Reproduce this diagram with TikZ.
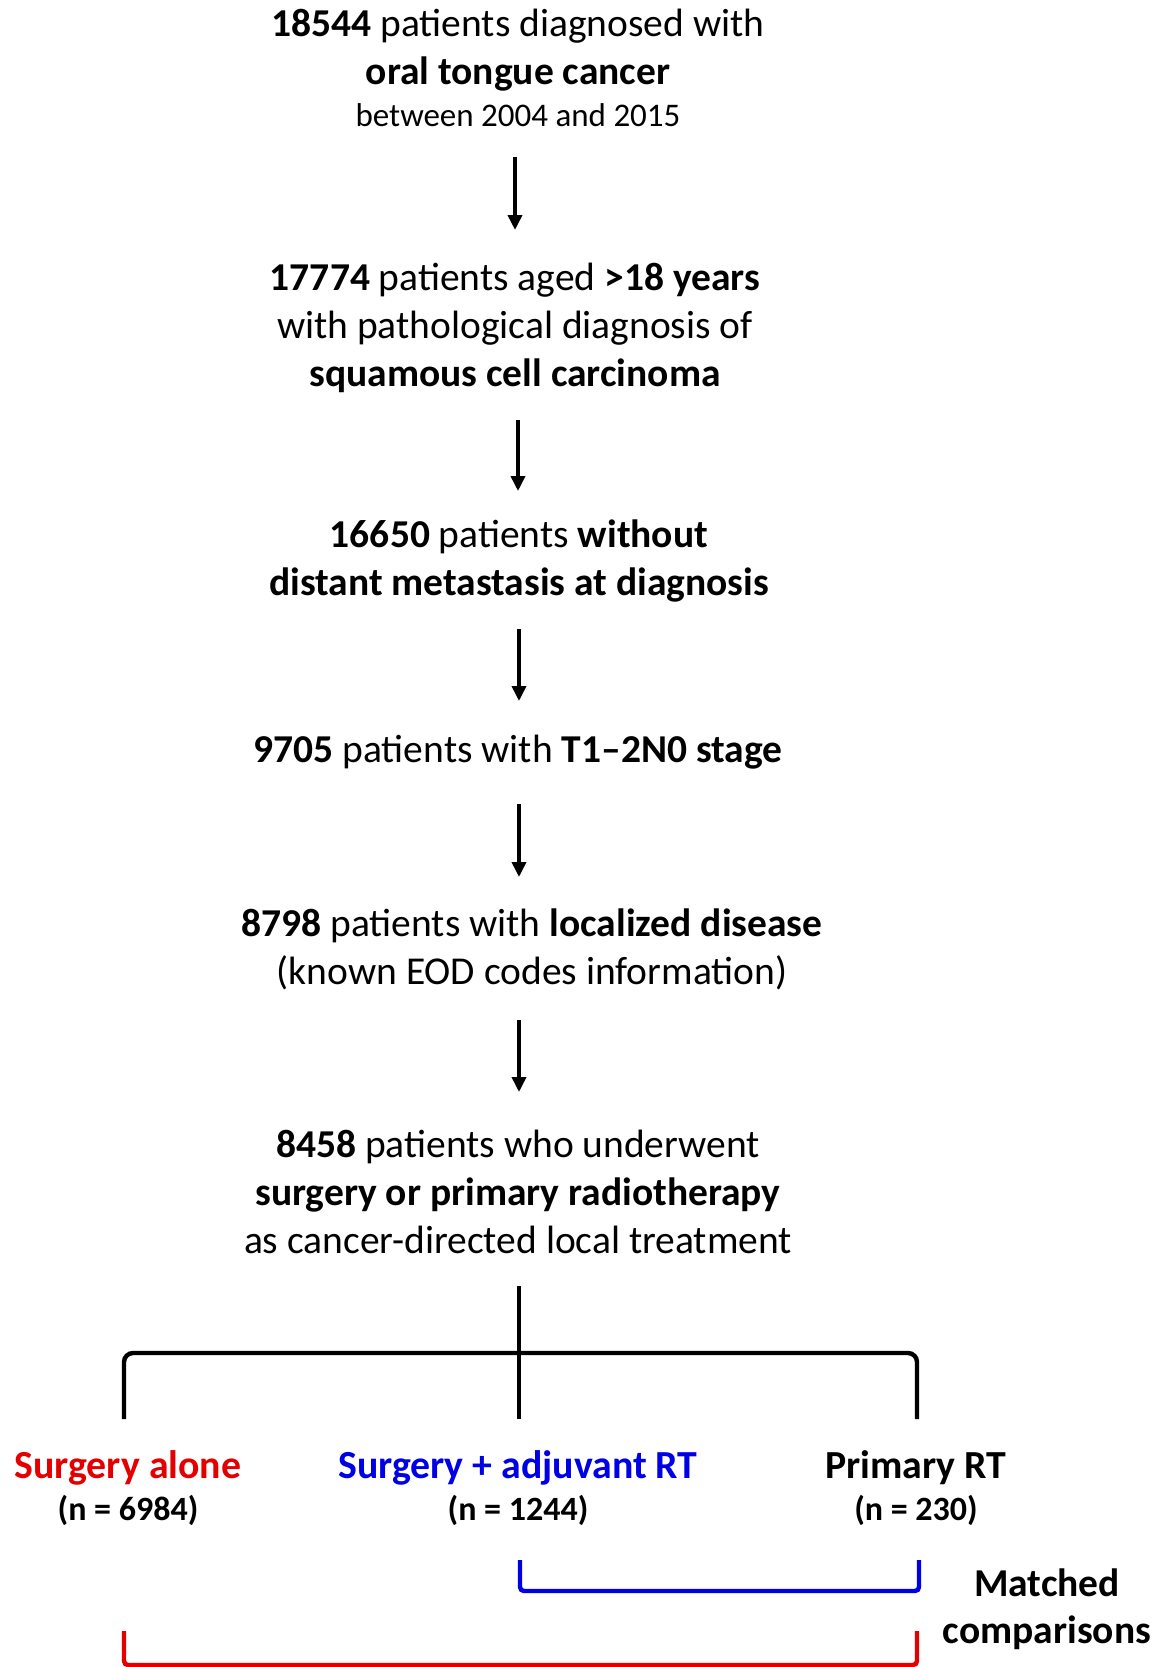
\documentclass[tikz,border=0pt]{standalone}
\usepackage{fontspec}
\setmainfont{Carlito}
\usetikzlibrary{arrows.meta}
\definecolor{myred}{RGB}{228,0,0}
\definecolor{myblue}{RGB}{0,0,230}
\begin{document}
\begin{tikzpicture}[x=1pt,y=-1pt,
  txt/.style={inner sep=0pt,anchor=base,align=center,font=\fontsize{39.5}{48}\selectfont},
  lbl/.style={inner sep=0pt,anchor=base,align=center,font=\fontsize{39.8}{40}\selectfont\bfseries},
  nsub/.style={},
  arr/.style={line width=3.6pt,-{Triangle[length=15pt,width=14pt]}},
  brk/.style={line width=4.4pt,rounded corners=9pt}]
\useasboundingbox (0,0) rectangle (1170,1667);
\fill[white] (0,0) rectangle (1170,1667);

\node[txt] (b1) at (518,127) {\textbf{18544} patients diagnosed with\\\textbf{oral tongue cancer}\\[-6pt]{\fontsize{33}{40}\selectfont between 2004 and 2015}};
\node[txt] (b2) at (515,386) {\textbf{17774} patients aged \textbf{>18 years}\\with pathological diagnosis of\\\textbf{squamous cell carcinoma}};
\node[txt] (b3) at (519,595) {\textbf{16650} patients \textbf{without}\\\textbf{distant metastasis at diagnosis}};
\node[txt] (b4) at (518,762) {\textbf{9705} patients with \textbf{T1--2N0 stage}};
\node[txt] (b5) at (532,984) {\textbf{8798} patients with \textbf{localized disease}\\(known EOD codes information)};
\node[txt] (b6) at (518,1253) {\textbf{8458} patients who underwent\\\textbf{surgery or primary radiotherapy}\\as cancer-directed local treatment};

\coordinate (a1s) at (515,157); \coordinate (a1e) at (515,230);
\coordinate (a2s) at (518,420); \coordinate (a2e) at (518,491);
\coordinate (a3s) at (519,629); \coordinate (a3e) at (519,701);
\coordinate (a4s) at (519,804); \coordinate (a4e) at (519,877);
\coordinate (a5s) at (519,1020); \coordinate (a5e) at (519,1092);
\draw[arr] (a1s) -- (a1e);
\draw[arr] (a2s) -- (a2e);
\draw[arr] (a3s) -- (a3e);
\draw[arr] (a4s) -- (a4e);
\draw[arr] (a5s) -- (a5e);

% split
\coordinate (vt) at (519,1286);
\coordinate (vb) at (519,1419);
\coordinate (lb) at (124,1419);
\coordinate (rb) at (917,1419);
\draw[line width=3.6pt] (vt) -- (vb);
\draw[brk] (lb) -- (124,1353) -- (917,1353) -- (rb);

\node[lbl,text=myred] (g1) at (128,1520) {Surgery alone\\[2pt]{\color{black}\fontsize{34}{40}\selectfont (n = 6984)}};
\node[lbl,text=myblue] (g2) at (518,1520) {Surgery + adjuvant RT\\[2pt]{\color{black}\fontsize{34}{40}\selectfont (n = 1244)}};
\node[lbl] (g3) at (916,1520) {Primary RT\\[2pt]{\fontsize{34}{40}\selectfont (n = 230)}};

\draw[brk,draw=myblue,rounded corners=4pt] (520,1560) -- (520,1591) -- (919,1591) -- (919,1560);
\draw[brk,draw=myred,rounded corners=4pt] (124,1631) -- (124,1665) -- (917,1665) -- (917,1631);

\node[lbl,font=\fontsize{39.5}{40}\selectfont\bfseries] (mc) at (1047,1643) {Matched\\[7pt]comparisons};
\end{tikzpicture}
\end{document}
